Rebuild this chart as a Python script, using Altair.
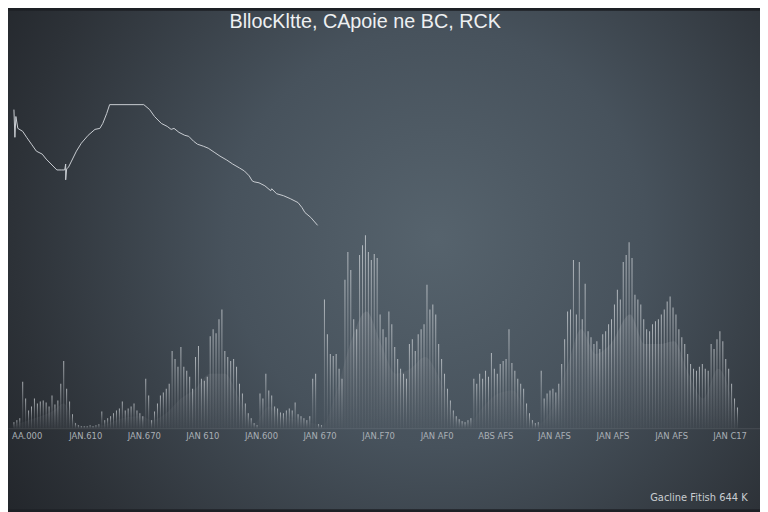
import json
import altair as alt
import pandas as pd

TITLE = "BllocKltte, CApoie ne BC, RCK"
FOOTNOTE = "Gacline Fitish 644 K"
TICK_VALUES = [14, 74, 134, 194, 254, 314, 374, 434, 494, 554, 614, 674, 734]
TICK_LABELS = ["AA.000", "JAN.610", "JAN.670", "JAN 610", "JAN.600", "JAN 670",
               "JAN.F70", "JAN AF0", "ABS AFS", "JAN AFS", "JAN AFS", "JAN AFS", "JAN C17"]

# spiky volume-like bars, one every 3 units from x=1
BAR_H = [
    6, 8, 10, 47, 30, 18, 22, 30, 25, 27,
    28, 26, 22, 33, 24, 28, 45, 68, 40, 27,
    14, 5, 3, 2, 2, 2, 3, 2, 3, 4,
    17, 8, 10, 12, 15, 18, 20, 27, 18, 20,
    22, 25, 18, 15, 12, 50, 33, 8, 17, 25,
    33, 36, 40, 45, 78, 70, 62, 82, 62, 58,
    52, 40, 72, 83, 50, 48, 52, 93, 100, 96,
    110, 120, 78, 72, 68, 70, 62, 45, 35, 25,
    15, 10, 5, 3, 35, 30, 55, 38, 33, 22,
    20, 16, 15, 18, 20, 18, 26, 14, 12, 10,
    8, 12, 50, 55, 4, 3, 130, 95, 75, 73,
    75, 60, 50, 150, 178, 160, 110, 100, 175, 185,
    195, 178, 170, 176, 172, 115, 100, 92, 118, 105,
    82, 70, 60, 55, 50, 85, 90, 78, 95, 100,
    105, 145, 120, 125, 115, 85, 70, 55, 40, 28,
    18, 12, 9, 7, 6, 8, 10, 50, 45, 55,
    50, 58, 52, 76, 60, 55, 65, 68, 70, 100,
    66, 58, 50, 45, 40, 25, 15, 8, 5, 6,
    58, 30, 35, 38, 40, 36, 45, 65, 90, 118,
    120, 170, 115, 168, 110, 146, 98, 92, 85, 88,
    80, 95, 98, 105, 110, 125, 140, 130, 168, 175,
    188, 172, 135, 130, 125, 110, 100, 98, 105, 108,
    110, 115, 120, 128, 133, 122, 115, 100, 92, 85,
    75, 65, 60, 58, 62, 65, 60, 58, 85, 80,
    90, 98, 88, 70, 60, 45, 30, 21,
]
BAR_X = list(range(1, 1 + 3 * len(BAR_H), 3))

# smooth lower envelope
AREA_X = [1, 22, 42, 52, 62, 72, 92, 112, 132, 142, 157, 172, 187, 202, 217, 232, 247,
          262, 277, 292, 307, 317, 332, 347, 362, 377, 392, 407, 422, 437, 452, 467,
          482, 497, 512, 527, 537, 552, 567, 582, 597, 612, 632, 647, 662, 677, 692,
          707, 722, 737, 742]
AREA_H = [3, 10, 18, 25, 8, 2, 3, 10, 12, 8, 15, 30, 40, 55, 55, 30, 5,
          22, 12, 8, 5, 3, 40, 90, 118, 85, 55, 60, 72, 50, 12, 6,
          22, 35, 38, 15, 4, 20, 60, 100, 75, 85, 115, 85, 85, 88, 55,
          30, 60, 25, 0]

# price line
LINE_X = [1, 2, 3, 5, 10, 14, 19, 24, 30, 34, 40, 45, 50, 53, 54, 54, 55, 57, 60, 65,
          70, 77, 84, 89, 92, 96, 99, 134, 140, 145, 152, 158, 162, 165, 170, 176, 180,
          185, 189, 195, 200, 206, 212, 219, 225, 232, 237, 242, 245, 247, 252, 258, 264,
          265, 270, 277, 284, 292, 296, 299, 305, 312]
LINE_Y = [322, 294, 315, 303, 300, 294, 287, 280, 277, 272, 266, 261, 261, 261, 267, 251,
          262, 264, 270, 280, 288, 296, 302, 303, 308, 318, 327, 327, 322, 315, 308, 305,
          302, 303, 299, 296, 295, 290, 287, 285, 283, 279, 275, 271, 267, 263, 260, 255,
          250, 249, 248, 245, 240, 242, 237, 235, 232, 228, 223, 218, 213, 205]

bars = pd.DataFrame({"x": BAR_X, "h": BAR_H})
area = pd.DataFrame({"x": AREA_X, "h": AREA_H})
line = pd.DataFrame({"x": LINE_X, "y": LINE_Y, "i": list(range(len(LINE_X)))})

W, H = 760, 392
xs = alt.Scale(domain=[0, 760], nice=False, zero=False)
ys = alt.Scale(domain=[0, 392], nice=False, zero=True)

label_expr = json.dumps(TICK_LABELS) + "[round((datum.value - 14) / 60)]"

x_axis = alt.Axis(values=TICK_VALUES, labelExpr=label_expr, ticks=False, grid=False,
                  domainColor="rgba(255,255,255,0.10)", labelColor="#a9afb5",
                  labelFont="DejaVu Sans", labelFontSize=8.5, labelFontWeight="normal",
                  labelPadding=3, labelOverlap=False, labelFlush=False, zindex=1,
                  title=FOOTNOTE, titleColor="#c9cdd1", titleFont="DejaVu Sans",
                  titleFontSize=10, titleFontWeight="normal", titleX=747, titleY=70,
                  titleAlign="right", titleBaseline="middle")

bg = alt.Chart(pd.DataFrame({"a": [0]})).mark_rect(
    fill=alt.RadialGradient(
        gradient="radial", x1=0.57, y1=0.47, x2=0.57, y2=0.47, r1=0, r2=0.8,
        stops=[alt.GradientStop(color="#56636d", offset=0),
               alt.GradientStop(color="#47525c", offset=0.35),
               alt.GradientStop(color="#2d3238", offset=0.7),
               alt.GradientStop(color="#181a1e", offset=1)]),
).encode(x=alt.value(0), x2=alt.value(W), y=alt.value(-30), y2=alt.value(H + 82))

area_layer = alt.Chart(area).mark_area(
    interpolate="monotone",
    fill=alt.LinearGradient(
        gradient="linear", x1=0, y1=0, x2=0, y2=1,
        stops=[alt.GradientStop(color="rgba(140,146,153,0.30)", offset=0),
               alt.GradientStop(color="rgba(100,106,113,0.12)", offset=1)]),
).encode(x=alt.X("x:Q", scale=xs, axis=x_axis), y=alt.Y("h:Q", scale=ys, axis=None))

bar_layer = alt.Chart(bars).mark_bar(
    size=1,
    fill=alt.LinearGradient(
        gradient="linear", x1=0, y1=0, x2=0, y2=1,
        stops=[alt.GradientStop(color="rgba(215,219,223,0.75)", offset=0),
               alt.GradientStop(color="rgba(190,195,200,0.35)", offset=0.5),
               alt.GradientStop(color="rgba(170,175,180,0.04)", offset=1)]),
).encode(x=alt.X("x:Q", scale=xs, axis=x_axis), y=alt.Y("h:Q", scale=ys, axis=None))

line_layer = alt.Chart(line).mark_line(color="#c9cdd2", strokeWidth=1).encode(
    x=alt.X("x:Q", scale=xs, axis=x_axis),
    y=alt.Y("y:Q", scale=ys, axis=None),
    order="i:Q",
)

chart = alt.layer(bg, area_layer, bar_layer, line_layer).properties(
    width=W, height=H,
    title=alt.Title(TITLE, fontSize=20, font="Liberation Sans", fontWeight="normal",
                    color="#eef0f2", anchor="middle", dx=-19, offset=-42,
                    baseline="bottom", zindex=1),
    autosize=alt.AutoSizeParams(type="none"),
    padding={"left": 0, "top": 30, "right": 0, "bottom": 82},
).configure_view(stroke=None).configure(background="#1d2025")

chart.save("out.html", embed_options={"renderer": "svg", "actions": False})
